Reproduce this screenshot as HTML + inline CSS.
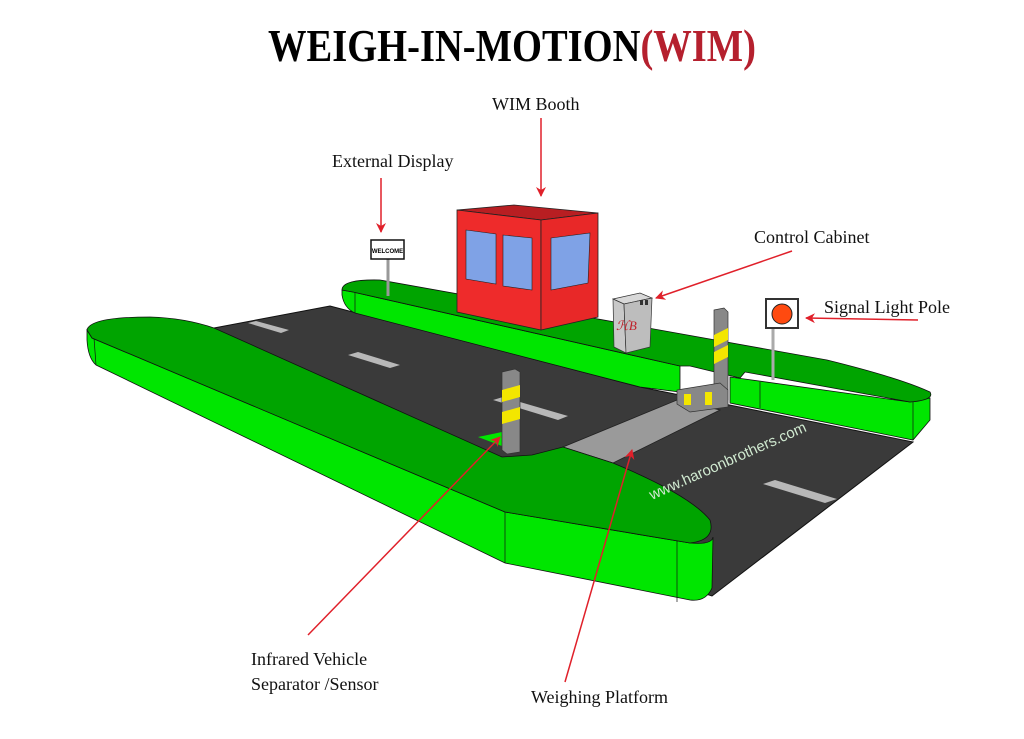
<!DOCTYPE html>
<html><head><meta charset="utf-8"><style>
html,body{margin:0;padding:0;background:#fff;}
svg{display:block;}
text{font-family:"Liberation Serif",serif;}
</style></head><body>
<svg width="1024" height="739" viewBox="0 0 1024 739" xmlns="http://www.w3.org/2000/svg">
<defs>
<marker id="ah" markerWidth="10" markerHeight="10" refX="9" refY="5" orient="auto" markerUnits="userSpaceOnUse">
<path d="M0,0 L10,5 L0,10 L3,5 Z" fill="#e0202a"/>
</marker>
</defs>
<rect width="1024" height="739" fill="#fff"/>
<text x="268" y="61" font-size="46" font-weight="bold" textLength="488" lengthAdjust="spacingAndGlyphs"><tspan fill="#000">WEIGH-IN-MOTION</tspan><tspan fill="#b5202e">(WIM)</tspan></text>

<!-- road -->
<path d="M214,328 L330,306 L640,387 L913,442 L712,596 L600,560 L214,340 Z" fill="#3a3a3a" stroke="#111" stroke-width="1"/>
<!-- dashes -->
<g fill="#b8b8b8">
<polygon points="248,323 256,321 289,330 281,333"/>
<polygon points="348,355 358,352 400,365 390,368"/>
<polygon points="493,400 503,397 568,416 558,420"/>
<polygon points="763,484 775,480 837,499 825,503"/>
</g>

<!-- back island side -->
<path d="M342,290 L353,292 L640,357 L680,366 L680,392 L640,387 L355,313 Q344,308 342,295 Z" fill="#00e600" stroke="#111" stroke-width="0.8"/>
<path d="M730,377 L910,402 L930,398 L930,420 L913,440 L730,403 Z" fill="#00e600" stroke="#111" stroke-width="0.8"/>
<!-- back island top -->
<path d="M342,290 Q342,279 380,280 L827,360 Q900,378 930,392 Q935,400 910,402 L745,372 L740,378 L690,366 L680,366 L353,292 Z" fill="#00a400" stroke="#111" stroke-width="0.8"/>
<line x1="355" y1="293" x2="355" y2="313" stroke="#111" stroke-width="0.7"/>
<line x1="913" y1="402" x2="913" y2="440" stroke="#111" stroke-width="0.7"/>
<line x1="760" y1="382" x2="760" y2="408" stroke="#111" stroke-width="0.7"/>

<!-- platform -->
<polygon points="563,447 613,463 720,410 677,400" fill="#9a9a9a" stroke="#222" stroke-width="0.8"/>

<!-- front island side -->
<path d="M87,330 L92,338 L505,512 L690,543 Q712,545 713,537 L712,588 Q706,602 690,600 L505,563 L96,365 Q88,358 87,340 Z" fill="#00e600" stroke="#111" stroke-width="0.8"/>
<line x1="94" y1="338" x2="96" y2="365" stroke="#111" stroke-width="0.7"/>
<line x1="505" y1="512" x2="505" y2="563" stroke="#111" stroke-width="0.7"/>
<line x1="677" y1="540" x2="677" y2="602" stroke="#111" stroke-width="0.7"/>
<!-- front island top -->
<path d="M87,330 Q90,317 150,317 Q185,318 214,328 L502,457 L532,455 L563,447 L613,463 Q690,495 710,520 Q716,540 690,543 L505,512 L92,338 Z" fill="#00a400" stroke="#111" stroke-width="0.8"/>
<polygon points="478,437 502,432 502,446" fill="#00e600"/>

<!-- watermark -->
<text x="652" y="500" font-size="15" fill="#cfe8cf" transform="rotate(-24 652 500)" style="font-family:'Liberation Sans',sans-serif">www.haroonbrothers.com</text>

<!-- booth -->
<polygon points="457,210 514,205 598,213 541,220" fill="#b81e22" stroke="#222" stroke-width="0.8"/>
<polygon points="457,210 541,220 541,330 457,312" fill="#ee2b2b" stroke="#222" stroke-width="0.8"/>
<polygon points="541,220 598,213 598,317 541,330" fill="#e82828" stroke="#222" stroke-width="0.8"/>
<polygon points="466,230 496,234 496,284 466,279" fill="#7fa2e6" stroke="#222" stroke-width="0.6"/>
<polygon points="503,235 532,238 532,290 503,286" fill="#7fa2e6" stroke="#222" stroke-width="0.6"/>
<polygon points="551,238 590,233 588,283 551,290" fill="#7fa2e6" stroke="#222" stroke-width="0.6"/>

<!-- external display -->
<line x1="388" y1="258" x2="388" y2="296" stroke="#999" stroke-width="3"/>
<rect x="371" y="240" width="33" height="19" fill="#fff" stroke="#111" stroke-width="1.5"/>
<text x="387.5" y="253" font-size="6" text-anchor="middle" font-weight="bold" style="font-family:'Liberation Sans',sans-serif">WELCOME</text>

<!-- cabinet -->
<polygon points="613,299 640,293 652,298 624,304" fill="#d8d8d8" stroke="#333" stroke-width="0.7"/>
<polygon points="613,299 624,304 626,353 614,347" fill="#c8c8c8" stroke="#333" stroke-width="0.7"/>
<polygon points="624,304 652,298 650,347 626,353" fill="#bdbdbd" stroke="#333" stroke-width="0.7"/>
<text x="616" y="330" font-size="13" fill="#c0202a" font-style="italic">ℋB</text>
<rect x="640" y="300" width="3" height="5" fill="#333"/><rect x="645" y="300" width="3" height="5" fill="#333"/>

<!-- right barrier pole -->
<polygon points="714,310 724,308 728,312 728,400 718,402 714,398" fill="#888" stroke="#333" stroke-width="0.7"/>
<polygon points="714,335 728,328 728,340 714,347" fill="#f3e600"/>
<polygon points="714,352 728,345 728,357 714,364" fill="#f3e600"/>
<!-- barrier bar -->
<polygon points="677,390 720,383 728,390 728,407 690,412 677,404" fill="#888" stroke="#333" stroke-width="0.7"/>
<rect x="684" y="394" width="7" height="11" fill="#f3e600"/><rect x="705" y="392" width="7" height="13" fill="#f3e600"/>

<!-- signal pole -->
<line x1="773" y1="328" x2="773" y2="380" stroke="#aaa" stroke-width="3"/>
<rect x="766" y="299" width="32" height="29" fill="#fff" stroke="#333" stroke-width="2"/>
<circle cx="782" cy="314" r="10" fill="#ff4a10" stroke="#222" stroke-width="1"/>

<!-- left sensor pole -->
<polygon points="502,372 515,369 520,372 520,452 507,454 502,450" fill="#888" stroke="#333" stroke-width="0.7"/>
<polygon points="502,390 520,385 520,397 502,402" fill="#f3e600"/>
<polygon points="502,412 520,407 520,419 502,424" fill="#f3e600"/>

<!-- arrows -->
<g stroke="#e0202a" stroke-width="1.5" fill="none" marker-end="url(#ah)">
<line x1="541" y1="118" x2="541" y2="196"/>
<line x1="381" y1="178" x2="381" y2="232"/>
<line x1="792" y1="251" x2="656" y2="298"/>
<line x1="918" y1="320" x2="806" y2="318"/>
<line x1="308" y1="635" x2="500" y2="437"/>
<line x1="565" y1="682" x2="632" y2="450"/>
</g>

<!-- labels -->
<g font-size="18" fill="#111">
<text x="492" y="110">WIM Booth</text>
<text x="332" y="167">External Display</text>
<text x="754" y="243">Control Cabinet</text>
<text x="824" y="313">Signal Light Pole</text>
<text x="251" y="665">Infrared Vehicle</text>
<text x="251" y="690">Separator /Sensor</text>
<text x="531" y="703">Weighing Platform</text>
</g>
</svg>
</body></html>
